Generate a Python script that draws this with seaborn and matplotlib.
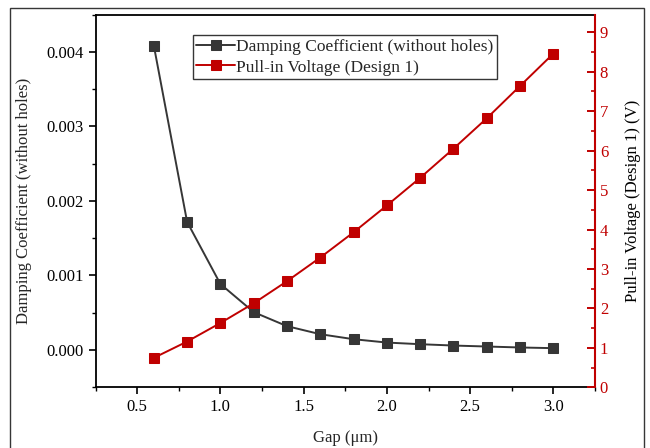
import matplotlib
matplotlib.use("Agg")
import matplotlib.pyplot as plt
import seaborn as sns
import pandas as pd
from matplotlib.ticker import MultipleLocator
from matplotlib.patches import Rectangle

gap = [0.6, 0.8, 1.0, 1.2, 1.4, 1.6, 1.8, 2.0, 2.2, 2.4, 2.6, 2.8, 3.0]
damping = [0.004083, 0.001718, 0.000885, 0.000508, 0.000320, 0.000212, 0.000145,
           0.000100, 0.000078, 0.000060, 0.000047, 0.000034, 0.000025]
voltage = [0.746, 1.16, 1.63, 2.13, 2.69, 3.29, 3.93, 4.61, 5.31, 6.05, 6.82, 7.64, 8.46]

label_damp = "Damping Coefficient (without holes)"
label_volt = "Pull-in Voltage (Design 1)"

sns.set_style("ticks")
plt.rcParams['font.family'] = ['Liberation Serif', 'DejaVu Serif']
plt.rcParams['mathtext.fontset'] = 'stix'

dark = "#363636"
red = "#c00000"

df = pd.DataFrame({"gap": gap, "damping": damping, "voltage": voltage})

fig = plt.figure(figsize=(6.5, 4.48), dpi=100)
ax = fig.add_axes([0.147, 0.1355, 0.7684, 0.8321])
ax2 = ax.twinx()

sns.lineplot(data=df, x="gap", y="damping", ax=ax, color=dark, marker="s",
             markersize=7, markeredgecolor=dark, linewidth=1.4, label=label_damp, legend=False)
sns.lineplot(data=df, x="gap", y="voltage", ax=ax2, color=red, marker="s",
             markersize=7, markeredgecolor=red, linewidth=1.4, label=label_volt, legend=False)

ax.set_xlim(0.25, 3.25)
ax.set_ylim(-0.0005, 0.0045)
ax2.set_ylim(0, 9.45)

ax.xaxis.set_major_locator(MultipleLocator(0.5))
ax.xaxis.set_minor_locator(MultipleLocator(0.25))
ax.yaxis.set_major_locator(MultipleLocator(0.001))
ax.yaxis.set_minor_locator(MultipleLocator(0.0005))
ax2.yaxis.set_major_locator(MultipleLocator(1))
ax2.yaxis.set_minor_locator(MultipleLocator(0.5))
ax.yaxis.set_major_formatter(matplotlib.ticker.FormatStrFormatter('%.3f'))
ax.xaxis.set_major_formatter(matplotlib.ticker.FormatStrFormatter('%.1f'))

ax.tick_params(axis='both', which='both', direction='out', labelsize=12, colors='black')
ax.tick_params(axis='both', which='major', length=5, width=1.2)
ax.tick_params(axis='both', which='minor', length=3, width=1.0)
ax.tick_params(axis='x', top=False)
ax2.tick_params(axis='x', which='both', top=True, bottom=False, labeltop=False,
                labelbottom=False, direction='in')
ax2.tick_params(axis='x', which='major', length=5, width=1.2)
ax2.tick_params(axis='x', which='minor', length=3, width=1.0)
ax2.tick_params(axis='y', which='both', direction='in', colors=red, labelsize=12)
ax2.tick_params(axis='y', which='major', length=6, width=1.4)
ax2.tick_params(axis='y', which='minor', length=3, width=1.2)

for s in ['left', 'bottom', 'top']:
    ax.spines[s].set_linewidth(1.3)
    ax.spines[s].set_color('black')
ax2.spines['right'].set_color(red)
ax2.spines['right'].set_linewidth(1.5)
ax.spines['right'].set_visible(False)
for s in ['left', 'bottom', 'top']:
    ax2.spines[s].set_visible(False)
ax.spines['top'].set_visible(True)

ax.set_xlabel("Gap (μm)", fontsize=12, labelpad=11)
ax.set_ylabel(label_damp, fontsize=12, labelpad=10)
ax2.set_ylabel("Pull-in Voltage (Design 1) (V)", fontsize=12, labelpad=12, color='black')

h1, l1 = ax.get_legend_handles_labels()
h2, l2 = ax2.get_legend_handles_labels()
leg = ax2.legend(h1 + h2, l1 + l2, loc='upper left', bbox_to_anchor=(0.195, 0.944),
                 borderaxespad=0, fancybox=False, framealpha=1, edgecolor=dark,
                 fontsize=12.5, handlelength=2.2, handletextpad=0.1, borderpad=0.2,
                 labelspacing=0.25, numpoints=1)
leg.get_frame().set_linewidth(1.0)

fig.add_artist(Rectangle((10 / 650, -0.1), (644 - 10) / 650, 1.1 - 8 / 448,
                         transform=fig.transFigure, fill=False, edgecolor=dark,
                         linewidth=1.0))

fig.savefig("out.png", dpi=100)
